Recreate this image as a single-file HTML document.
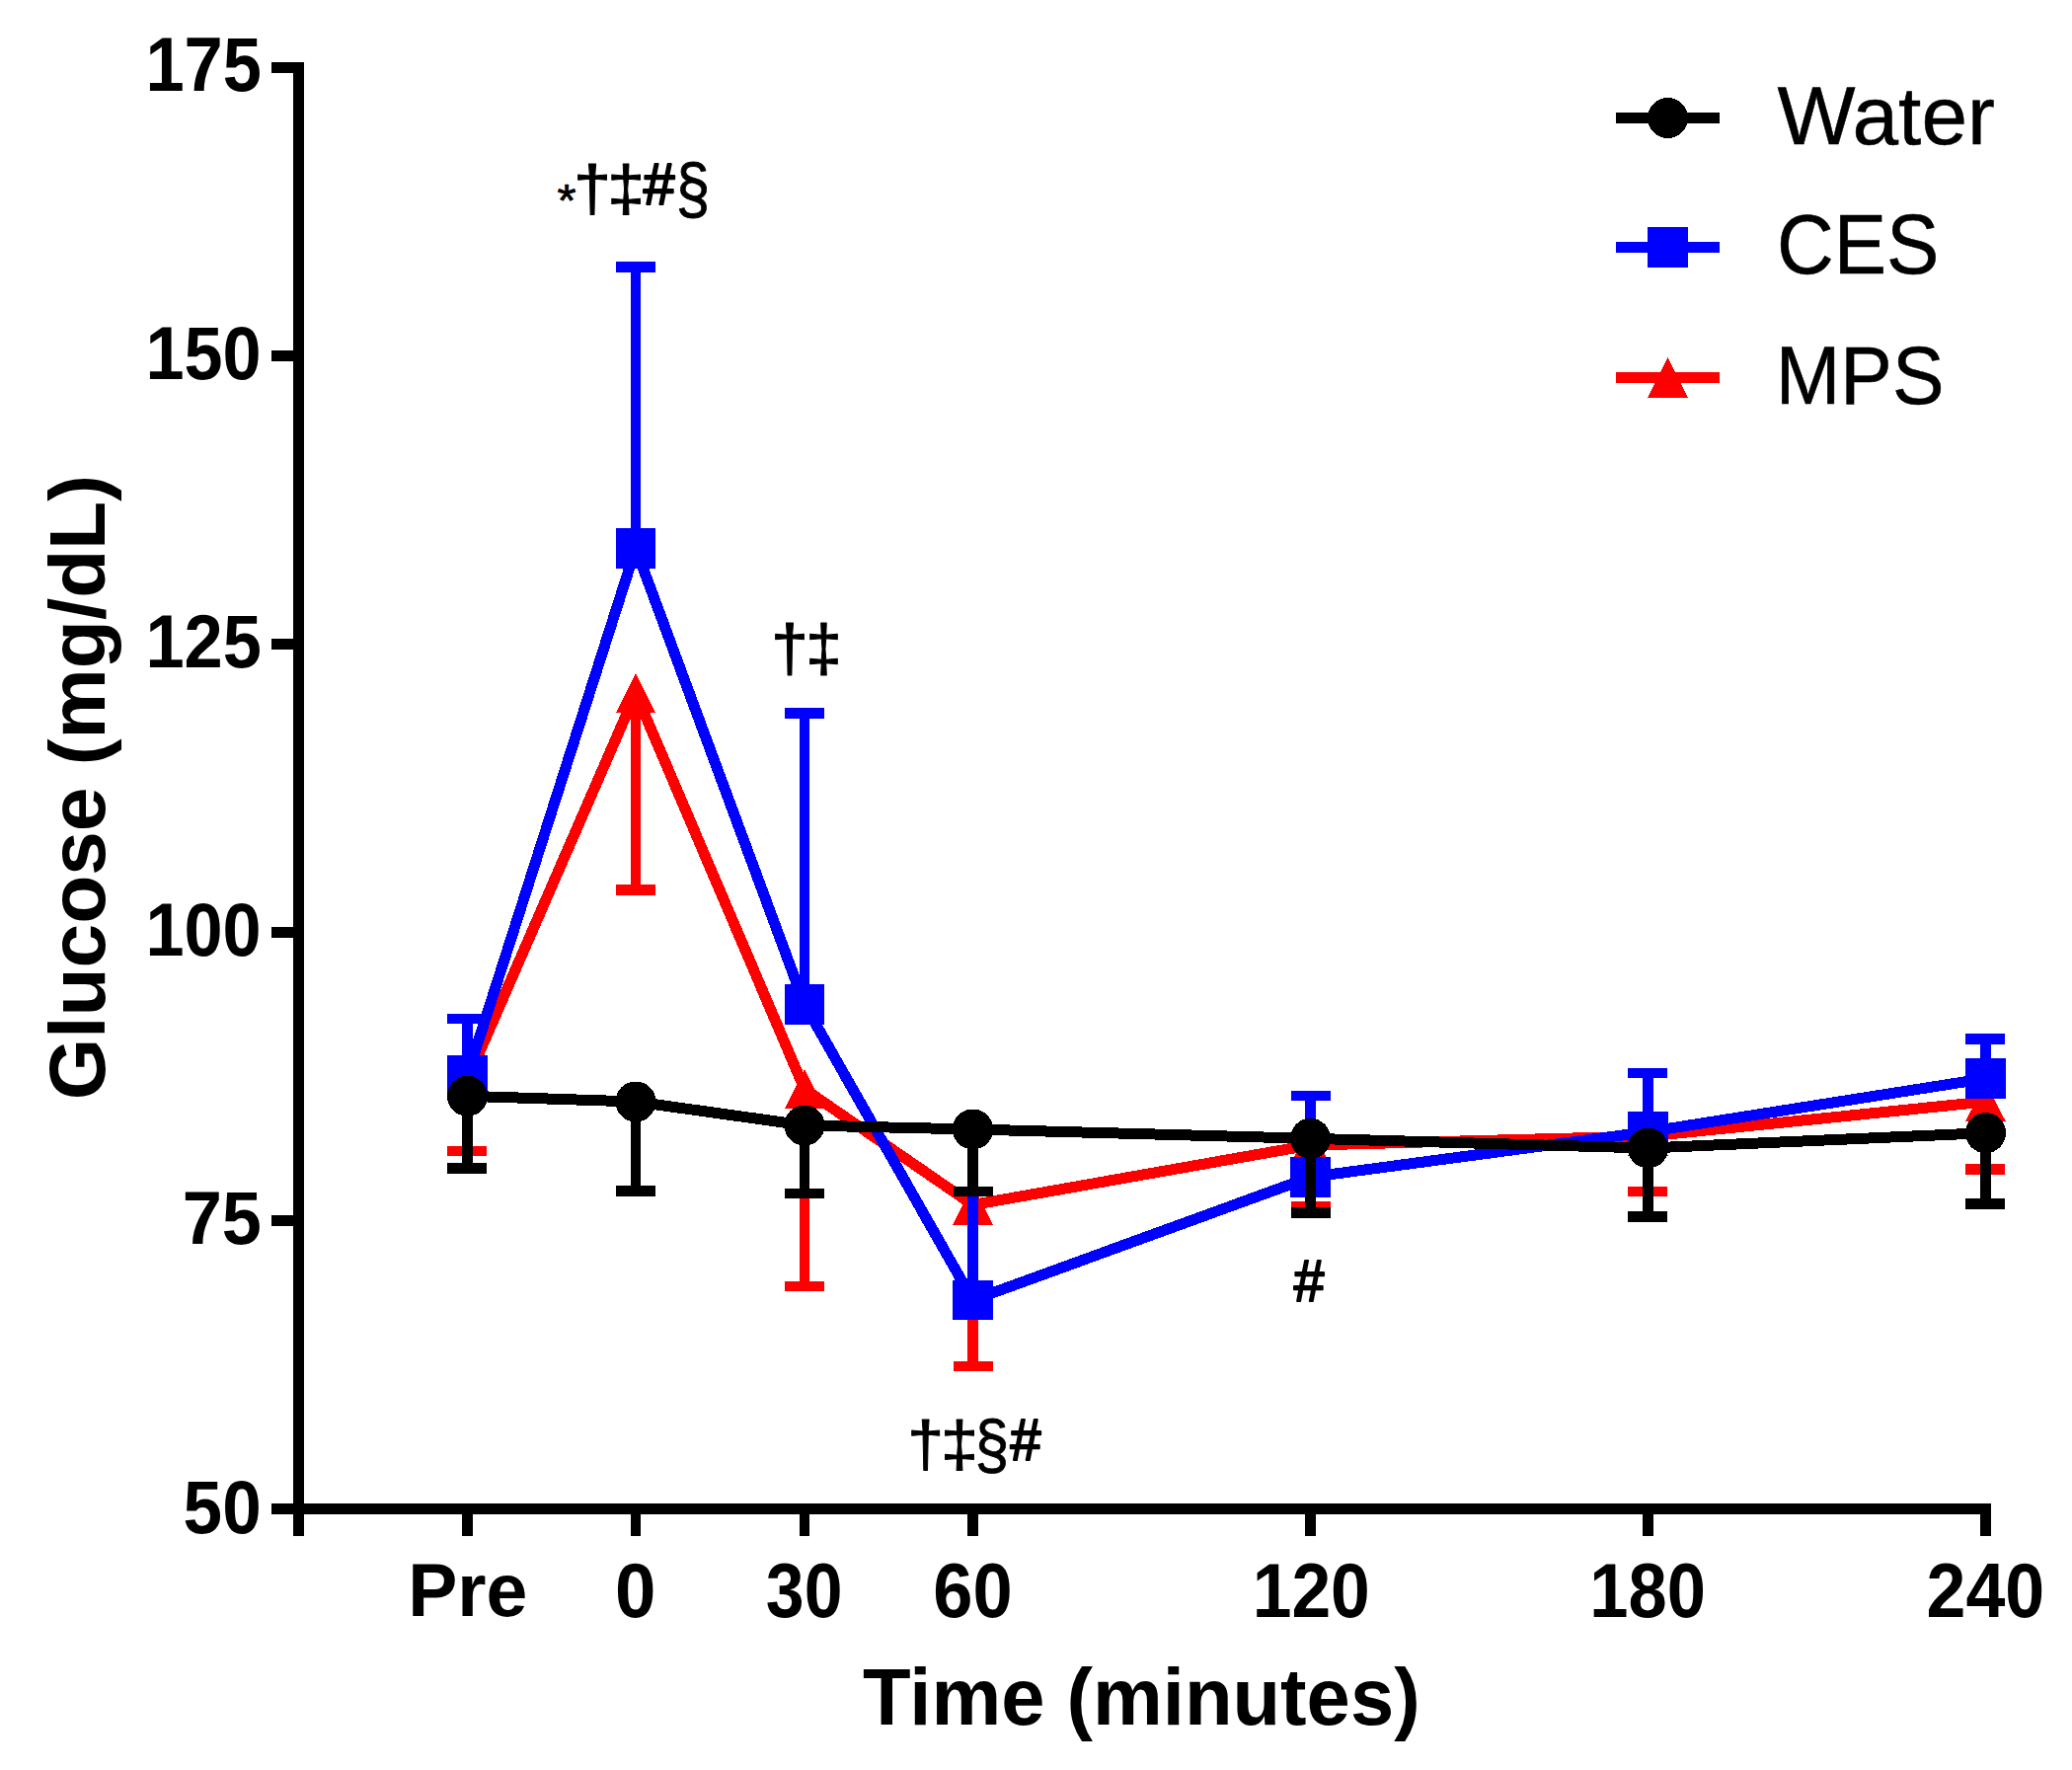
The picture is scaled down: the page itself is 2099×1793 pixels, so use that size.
<!DOCTYPE html>
<html lang="en">
<head>
<meta charset="utf-8">
<title>Glucose response</title>
<style>
html,body{margin:0;padding:0;background:#fff;}
body{width:2099px;height:1793px;overflow:hidden;}
svg{display:block;}
text{font-family:"Liberation Sans",Arial,Helvetica,sans-serif;font-size:100px;fill:#000;}
</style>
</head>
<body>
<svg width="2099" height="1793" viewBox="0 0 2099 1793">
<rect x="0" y="0" width="2099" height="1793" fill="#fff"/>
<g id="plot" shape-rendering="crispEdges">
<g id="axes" fill="#000">
<rect x="297" y="63" width="11" height="1493"/>
<rect x="275" y="1523" width="1741.6" height="11"/>
<rect x="275" y="63.25" width="23" height="10.5"/>
<rect x="275" y="355.25" width="23" height="10.5"/>
<rect x="275" y="647.25" width="23" height="10.5"/>
<rect x="275" y="939.25" width="23" height="10.5"/>
<rect x="275" y="1231.25" width="23" height="10.5"/>
<rect x="275" y="1523.25" width="23" height="10.5"/>
<rect x="468.25" y="1533" width="10.5" height="23"/>
<rect x="638.75" y="1533" width="10.5" height="23"/>
<rect x="809.75" y="1533" width="10.5" height="23"/>
<rect x="980.25" y="1533" width="10.5" height="23"/>
<rect x="1322.25" y="1533" width="10.5" height="23"/>
<rect x="1664.25" y="1533" width="10.5" height="23"/>
<rect x="2006.25" y="1533" width="10.5" height="23"/>
</g>
<g id="mps"><rect x="468.25" y="1094" width="10.5" height="72" fill="#ff0000"/>
<rect x="453" y="1160.75" width="40" height="10.5" fill="#ff0000"/>
<rect x="638.75" y="702.2" width="10.5" height="199.3" fill="#ff0000"/>
<rect x="624" y="896.25" width="40" height="10.5" fill="#ff0000"/>
<rect x="809.75" y="1103.2" width="10.5" height="199.8" fill="#ff0000"/>
<rect x="795" y="1297.75" width="40" height="10.5" fill="#ff0000"/>
<rect x="980.25" y="1220.5" width="10.5" height="163.5" fill="#ff0000"/>
<rect x="966" y="1378.75" width="40" height="10.5" fill="#ff0000"/>
<rect x="1322.25" y="1160" width="10.5" height="62" fill="#ff0000"/>
<rect x="1308" y="1216.75" width="40" height="10.5" fill="#ff0000"/>
<rect x="1664.25" y="1151" width="10.5" height="56" fill="#ff0000"/>
<rect x="1649" y="1201.75" width="40" height="10.5" fill="#ff0000"/>
<rect x="2006.25" y="1116" width="10.5" height="68.5" fill="#ff0000"/>
<rect x="1991" y="1179.25" width="40" height="10.5" fill="#ff0000"/>
<polyline points="473.5,1094 644,702.2 815,1103.2 985.5,1220.5 1327.5,1160 1669.5,1151 2011.5,1116" fill="none" stroke="#ff0000" stroke-width="11" stroke-linejoin="round"/>
<polygon points="473.5,1073.75 493.9,1114.25 453.1,1114.25" fill="#ff0000"/>
<polygon points="644,681.95 664.4,722.45 623.6,722.45" fill="#ff0000"/>
<polygon points="815,1082.95 835.4,1123.45 794.6,1123.45" fill="#ff0000"/>
<polygon points="985.5,1200.25 1005.9,1240.75 965.1,1240.75" fill="#ff0000"/>
<polygon points="1327.5,1139.75 1347.9,1180.25 1307.1,1180.25" fill="#ff0000"/>
<polygon points="1669.5,1130.75 1689.9,1171.25 1649.1,1171.25" fill="#ff0000"/>
<polygon points="2011.5,1095.75 2031.9,1136.25 1991.1,1136.25" fill="#ff0000"/></g>
<g id="ces"><rect x="468.25" y="1032" width="10.5" height="57.3" fill="#0000ff"/>
<rect x="453" y="1026.75" width="40" height="10.5" fill="#0000ff"/>
<rect x="638.75" y="270.6" width="10.5" height="284.9" fill="#0000ff"/>
<rect x="624" y="265.35" width="40" height="10.5" fill="#0000ff"/>
<rect x="809.75" y="722.5" width="10.5" height="295" fill="#0000ff"/>
<rect x="795" y="717.25" width="40" height="10.5" fill="#0000ff"/>
<rect x="980.25" y="1207" width="10.5" height="110" fill="#0000ff"/>
<rect x="966" y="1201.75" width="40" height="10.5" fill="#0000ff"/>
<rect x="1322.25" y="1110" width="10.5" height="82.4" fill="#0000ff"/>
<rect x="1308" y="1104.75" width="40" height="10.5" fill="#0000ff"/>
<rect x="1664.25" y="1087" width="10.5" height="59.5" fill="#0000ff"/>
<rect x="1649" y="1081.75" width="40" height="10.5" fill="#0000ff"/>
<rect x="2006.25" y="1052.5" width="10.5" height="40" fill="#0000ff"/>
<rect x="1991" y="1047.25" width="40" height="10.5" fill="#0000ff"/>
<polyline points="473.5,1089.3 644,555.5 815,1017.5 985.5,1317 1327.5,1192.4 1669.5,1146.5 2011.5,1092.5" fill="none" stroke="#0000ff" stroke-width="11" stroke-linejoin="round"/>
<rect x="453.25" y="1069.05" width="40.5" height="40.5" fill="#0000ff"/>
<rect x="623.75" y="535.25" width="40.5" height="40.5" fill="#0000ff"/>
<rect x="794.75" y="997.25" width="40.5" height="40.5" fill="#0000ff"/>
<rect x="965.25" y="1296.75" width="40.5" height="40.5" fill="#0000ff"/>
<rect x="1307.25" y="1172.15" width="40.5" height="40.5" fill="#0000ff"/>
<rect x="1649.25" y="1126.25" width="40.5" height="40.5" fill="#0000ff"/>
<rect x="1991.25" y="1072.25" width="40.5" height="40.5" fill="#0000ff"/></g>
<g id="water"><rect x="468.25" y="1110.3" width="10.5" height="73.2" fill="#000000"/>
<rect x="453" y="1178.25" width="40" height="10.5" fill="#000000"/>
<rect x="638.75" y="1116" width="10.5" height="90.3" fill="#000000"/>
<rect x="624" y="1201.05" width="40" height="10.5" fill="#000000"/>
<rect x="809.75" y="1140" width="10.5" height="69" fill="#000000"/>
<rect x="795" y="1203.75" width="40" height="10.5" fill="#000000"/>
<rect x="980.25" y="1144" width="10.5" height="63" fill="#000000"/>
<rect x="966" y="1201.75" width="40" height="10.5" fill="#000000"/>
<rect x="1322.25" y="1153.3" width="10.5" height="75.2" fill="#000000"/>
<rect x="1308" y="1223.25" width="40" height="10.5" fill="#000000"/>
<rect x="1664.25" y="1163" width="10.5" height="69.5" fill="#000000"/>
<rect x="1649" y="1227.25" width="40" height="10.5" fill="#000000"/>
<rect x="2006.25" y="1147.7" width="10.5" height="71.8" fill="#000000"/>
<rect x="1991" y="1214.25" width="40" height="10.5" fill="#000000"/>
<polyline points="473.5,1110.3 644,1116 815,1140 985.5,1144 1327.5,1153.3 1669.5,1163 2011.5,1147.7" fill="none" stroke="#000000" stroke-width="11" stroke-linejoin="round"/>
<circle cx="473.5" cy="1110.3" r="20.5" fill="#000000"/>
<circle cx="644" cy="1116" r="20.5" fill="#000000"/>
<circle cx="815" cy="1140" r="20.5" fill="#000000"/>
<circle cx="985.5" cy="1144" r="20.5" fill="#000000"/>
<circle cx="1327.5" cy="1153.3" r="20.5" fill="#000000"/>
<circle cx="1669.5" cy="1163" r="20.5" fill="#000000"/>
<circle cx="2011.5" cy="1147.7" r="20.5" fill="#000000"/></g>
<g id="legend">
<rect x="1637" y="114.25" width="105" height="10.5" fill="#000000"/>
<circle cx="1689.5" cy="119.5" r="20.5" fill="#000000"/>
<rect x="1637" y="245.25" width="105" height="10.5" fill="#0000ff"/>
<rect x="1669.25" y="230.25" width="40.5" height="40.5" fill="#0000ff"/>
<rect x="1637" y="377.25" width="105" height="10.5" fill="#ff0000"/>
<polygon points="1689.5,362.25 1709.9,402.75 1669.1,402.75" fill="#ff0000"/>
</g>
</g>
<g id="ylabels">
<text transform="matrix(0.7048 0 0 0.7729 147.42 92.33)" font-weight="bold">175</text>
<text transform="matrix(0.7029 0 0 0.7655 147.43 384.33)" font-weight="bold">150</text>
<text transform="matrix(0.7048 0 0 0.7634 147.42 676.24)" font-weight="bold">125</text>
<text transform="matrix(0.7029 0 0 0.7655 147.43 968.33)" font-weight="bold">100</text>
<text transform="matrix(0.7221 0 0 0.7571 184.65 1260.24)" font-weight="bold">75</text>
<text transform="matrix(0.7115 0 0 0.7634 185.57 1552.64)" font-weight="bold">50</text>
</g>
<g id="xlabels">
<text transform="matrix(0.7518 0 0 0.7514 413.21 1636.85)" font-weight="bold">Pre</text>
<text transform="matrix(0.7453 0 0 0.7803 622.92 1638.02)" font-weight="bold">0</text>
<text transform="matrix(0.6976 0 0 0.7803 775.86 1638.02)" font-weight="bold">30</text>
<text transform="matrix(0.7227 0 0 0.7803 945.27 1638.02)" font-weight="bold">60</text>
<text transform="matrix(0.7144 0 0 0.7803 1268.66 1638.02)" font-weight="bold">120</text>
<text transform="matrix(0.7048 0 0 0.7803 1610.32 1638.02)" font-weight="bold">180</text>
<text transform="matrix(0.7172 0 0 0.7803 1951.49 1638.02)" font-weight="bold">240</text>
</g>
<g id="titles">
<text transform="matrix(0.7960 0 0 0.8096 874.10 1746.80)" font-weight="bold">Time (minutes)</text>
<text transform="matrix(0 -0.8027 0.8053 0 106.49 1114.21)" font-weight="bold">Glucose (mg/dL)</text>
</g>
<g id="legendtext">
<text transform="matrix(0.8379 0 0 0.8343 1800.53 145.72)" stroke="#000" stroke-width="0.59" stroke-linejoin="round">Water</text>
<text transform="matrix(0.8001 0 0 0.8463 1799.94 277.10)" stroke="#000" stroke-width="0.60" stroke-linejoin="round">CES</text>
<text transform="matrix(0.7878 0 0 0.8378 1798.74 408.71)" stroke="#000" stroke-width="0.61" stroke-linejoin="round">MPS</text>
</g>
<g id="ann0">
<text transform="matrix(0.4906 0 0 0.4672 564.46 218.51)" stroke="#000" stroke-width="1.60" stroke-linejoin="round">*</text>
<text transform="matrix(0.6848 0 0 0.6547 580.95 212.84)" stroke="#000" stroke-width="1.46" stroke-linejoin="round">†</text>
<text transform="matrix(0.6802 0 0 0.6546 615.18 212.84)" stroke="#000" stroke-width="1.46" stroke-linejoin="round">‡</text>
<text transform="matrix(0.5701 0 0 0.5981 651.73 206.94)" stroke="#000" stroke-width="3.56" stroke-linejoin="round">#</text>
<text transform="matrix(0.6196 0 0 0.6959 684.75 214.77)" stroke="#000" stroke-width="1.19" stroke-linejoin="round">§</text>
</g>
<g id="ann1">
<text transform="matrix(0.6826 0 0 0.6646 781.06 678.77)" stroke="#000" stroke-width="1.45" stroke-linejoin="round">†</text>
<text transform="matrix(0.6572 0 0 0.6644 816.21 678.76)" stroke="#000" stroke-width="1.47" stroke-linejoin="round">‡</text>
</g>
<g id="ann2">
<text transform="matrix(0.6617 0 0 0.6545 919.19 1484.93)" stroke="#000" stroke-width="1.48" stroke-linejoin="round">†</text>
<text transform="matrix(0.6848 0 0 0.6547 953.05 1484.94)" stroke="#000" stroke-width="1.46" stroke-linejoin="round">‡</text>
<text transform="matrix(0.6240 0 0 0.6935 987.53 1486.69)" stroke="#000" stroke-width="1.19" stroke-linejoin="round">§</text>
<text transform="matrix(0.5559 0 0 0.5963 1023.62 1478.92)" stroke="#000" stroke-width="3.61" stroke-linejoin="round">#</text>
</g>
<g id="ann3">
<text transform="matrix(0.5505 0 0 0.5962 1310.72 1317.92)" stroke="#000" stroke-width="3.62" stroke-linejoin="round">#</text>
</g>
</svg>
</body>
</html>
